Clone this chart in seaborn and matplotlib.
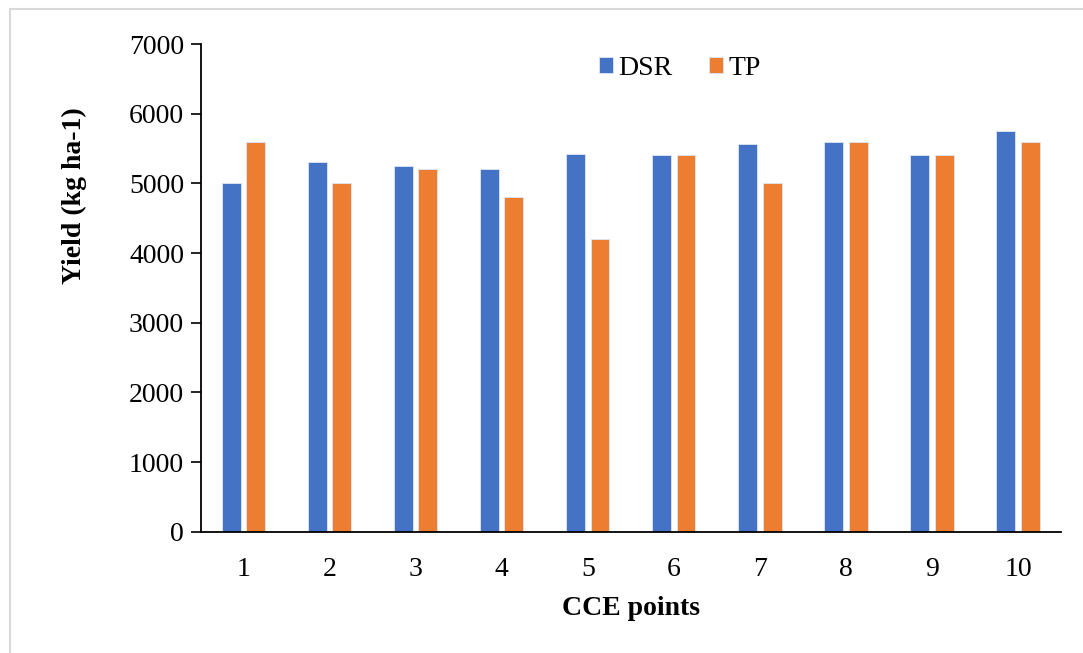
import pandas as pd
import matplotlib
matplotlib.use('Agg')
import matplotlib.pyplot as plt
import seaborn as sns
from matplotlib.patches import Rectangle

# CCE points and yields (kg ha-1)
points = ['1', '2', '3', '4', '5', '6', '7', '8', '9', '10']
dsr_yield = [5000, 5300, 5250, 5200, 5420, 5400, 5560, 5600, 5400, 5750]
tp_yield = [5600, 5000, 5200, 4800, 4200, 5400, 5000, 5600, 5400, 5600]
methods = ['DSR', 'TP']
colors = ['#4472C4', '#ED7D31']

df = pd.DataFrame({
    'CCE points': points * 2,
    'Yield': dsr_yield + tp_yield,
    'Method': [methods[0]] * len(points) + [methods[1]] * len(points),
})

sns.set_theme(style='white')
plt.rcParams['font.family'] = ['Liberation Serif', 'DejaVu Serif']
plt.rcParams['text.color'] = 'black'
plt.rcParams['axes.labelcolor'] = 'black'

fig = plt.figure(figsize=(10.83, 6.53), dpi=100)
ax = fig.add_axes([0.1853, 0.1858, 0.9797 - 0.1853, 0.9326 - 0.1858])

sns.barplot(data=df, x='CCE points', y='Yield', hue='Method', order=points,
            hue_order=methods, palette=colors, saturation=1, width=0.565, gap=0.22,
            edgecolor='#dde6f5', linewidth=0.6, ax=ax)

ax.set_xlim(-0.5, 9.5)
ax.set_ylim(0, 7000)
ax.set_yticks(range(0, 7001, 1000))
ax.tick_params(axis='y', which='major', left=True, length=7, width=1.2,
               direction='out', labelsize=20, pad=5, colors='black')
ax.tick_params(axis='x', bottom=False, labelsize=20, pad=12, colors='black')

for side in ['top', 'right']:
    ax.spines[side].set_visible(False)
for side in ['left', 'bottom']:
    ax.spines[side].set_color('black')
    ax.spines[side].set_linewidth(1.3)

ax.set_xlabel('CCE points', fontsize=20, fontweight='bold', labelpad=10, color='black')
ax.set_ylabel('Yield (kg ha-1)', fontsize=20, fontweight='bold', color='black')
ax.yaxis.set_label_coords(-0.132, 0.69)

leg = ax.legend(loc='upper center', bbox_to_anchor=(0.557, 1.027), ncol=2, frameon=False,
                fontsize=20, handlelength=0.5, handleheight=0.5, handletextpad=0.2,
                columnspacing=1.3)
for t in leg.get_texts():
    t.set_color('black')

# light grey frame round the chart
fig.patches.append(Rectangle((0.009, -0.02), 1.1, 1.006, transform=fig.transFigure,
                             fill=False, edgecolor='#d9d9d9', linewidth=1.5))

fig.savefig('out.png', dpi=100, facecolor='white')
